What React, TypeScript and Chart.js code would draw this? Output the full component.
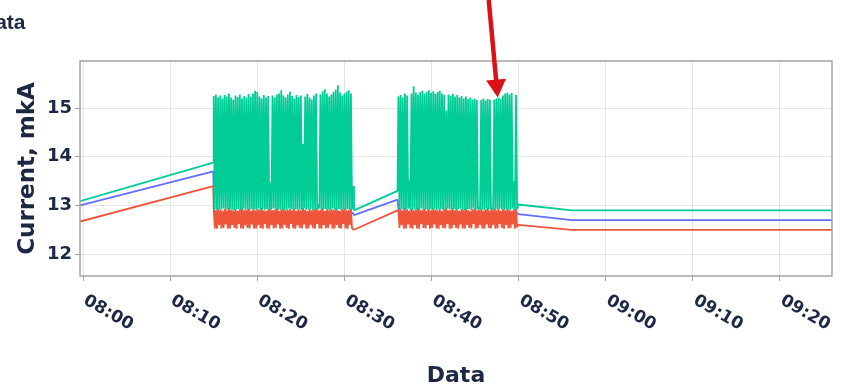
import React, { useEffect, useRef } from 'react';
import { Chart, registerables } from 'chart.js';

Chart.register(...registerables);

const NAVY = '#1d2944';
const TEAL = '#00CC96';
const RED = '#EF553B';
const PURPLE = '#636EFA';

// x values: minutes after 08:00
const xTickValues = [0, 10, 20, 30, 40, 50, 60, 70, 80];
const xTickLabels = ['08:00', '08:10', '08:20', '08:30', '08:40', '08:50', '09:00', '09:10', '09:20'];
const yTickValues = [12, 13, 14, 15];

const sampleStep = 0.125; // minutes between samples inside a burst
const burst1Start = 15.0;
const burst2Start = 36.2;

const preTimes = [-0.35, 14.95];
const tealPre = [13.09, 13.88];
const purplePre = [13.0, 13.7];
const redPre = [12.67, 13.4];

const midTimes = [31.1, 36.1];
const tealMid = [12.9, 13.3];
const purpleMid = [12.8, 13.12];
const redMid = [12.5, 12.9];

const postTimes = [49.95, 56.1, 86];
const tealPost = [13.02, 12.9, 12.9];
const purplePost = [12.82, 12.7, 12.7];
const redPost = [12.6, 12.5, 12.5];

const purpleBurst1Times = [15.05, 23.0, 30.95];
const purpleBurst1 = [12.85, 12.84, 12.85];
const purpleBurst2Times = [36.25, 43.0, 49.8];
const purpleBurst2 = [12.85, 12.84, 12.85];

const tealBurst1Highs = [
  15.25, 15.28, 15.22, 15.26, 15.2, 15.27, 15.24, 15.3, 15.22, 15.18,
  15.26, 15.23, 15.28, 15.2, 15.25, 15.22, 15.29, 15.24, 15.3, 15.36,
  15.33, 15.24, 15.2, 15.27, 15.22, 15.25, 13.47, 15.26, 15.22, 15.28,
  15.3, 15.37, 15.26, 15.22, 15.28, 15.34, 15.25, 15.2, 15.27, 15.23,
  15.26, 14.27, 15.24, 15.29, 15.22, 15.18, 15.26, 15.3, 13.02, 15.28,
  15.35, 15.39, 15.3, 15.24, 15.28, 15.33, 15.38, 15.47, 15.32, 15.26,
  15.3, 15.34, 15.37, 15.3, 13.4,
];
const tealBurst1Lows = [
  12.92, 12.9, 12.93, 12.91, 12.94, 12.9, 12.92, 12.93, 12.91, 12.9,
  12.93, 12.92, 12.9, 12.94, 12.91, 12.92, 12.9, 12.93, 12.91, 12.92,
  12.94, 12.9, 12.92, 12.91, 12.93, 12.9, 12.92, 12.94, 12.91, 12.9,
  12.92, 12.93, 12.91, 12.9, 12.94, 12.92, 12.9, 12.93, 12.91, 12.92,
  12.9, 12.94, 12.91, 12.92, 12.93, 12.9, 12.92, 12.91, 12.94, 12.9,
  12.92, 12.93, 12.91, 12.9, 12.94, 12.92, 12.9, 12.93, 12.91, 12.92,
  12.9, 12.93, 12.91, 12.92,
];
const redBurst1Highs = [
  12.92, 12.9, 12.94, 12.91, 12.89, 12.93, 12.9, 12.95, 12.91, 12.9,
  12.93, 12.89, 12.92, 12.96, 12.9, 12.91, 12.94, 12.89, 12.92, 12.9,
  12.93, 12.91, 12.95, 12.9, 12.89, 12.92, 12.94, 12.9, 12.91, 12.93,
  12.89, 12.92, 12.96, 12.9, 12.91, 12.93, 12.9, 12.94, 12.89, 12.92,
  12.9, 12.95, 12.91, 12.89, 12.93, 12.9, 12.92, 12.94, 12.9, 12.91,
  12.96, 12.89, 12.92, 12.9, 12.93, 12.91, 12.95, 12.9, 12.89, 12.92,
  12.94, 12.9, 12.91, 12.93, 12.52,
];
const redBurst1Lows = [
  12.53, 12.52, 12.6, 12.53, 12.54, 12.61, 12.52, 12.53, 12.6, 12.54,
  12.52, 12.62, 12.53, 12.52, 12.59, 12.54, 12.53, 12.61, 12.52, 12.53,
  12.6, 12.54, 12.52, 12.62, 12.53, 12.52, 12.6, 12.53, 12.54, 12.61,
  12.52, 12.53, 12.6, 12.54, 12.52, 12.62, 12.53, 12.52, 12.59, 12.54,
  12.53, 12.61, 12.52, 12.53, 12.6, 12.54, 12.52, 12.62, 12.53, 12.52,
  12.6, 12.53, 12.54, 12.61, 12.52, 12.53, 12.6, 12.54, 12.52, 12.62,
  12.53, 12.52, 12.6, 12.53,
];

const tealBurst2Highs = [
  15.24, 15.27, 15.22, 15.3, 15.26, 13.52, 15.3, 15.45, 15.32, 15.28,
  15.33, 15.36, 15.3, 15.34, 15.37, 15.31, 15.35, 15.29, 15.33, 15.36,
  15.3, 15.27, 14.95, 15.28, 15.25, 15.29, 15.24, 15.27, 15.22, 15.25,
  15.2, 15.24, 15.19, 15.22, 15.18, 15.2, 15.17, 12.95, 15.17, 15.2,
  15.16, 15.19, 15.17, 12.95, 15.18, 15.2, 15.22, 15.19, 15.26, 15.3,
  15.32, 15.28, 15.31, 13.5, 15.27,
];
const tealBurst2Lows = [
  12.91, 12.93, 12.9, 12.92, 12.94, 12.91, 12.9, 12.93, 12.92, 12.9,
  12.94, 12.91, 12.92, 12.9, 12.93, 12.91, 12.94, 12.9, 12.92, 12.93,
  12.91, 12.9, 12.94, 12.92, 12.91, 12.93, 12.9, 12.92, 12.94, 12.91,
  12.9, 12.93, 12.92, 12.91, 12.94, 12.9, 12.92, 12.93, 12.91, 12.9,
  12.94, 12.92, 12.91, 12.93, 12.9, 12.92, 12.94, 12.91, 12.9, 12.93,
  12.92, 12.91, 12.94, 12.9, 12.92,
];
const redBurst2Highs = [
  12.91, 12.93, 12.9, 12.95, 12.92, 12.89, 12.94, 12.9, 12.92, 12.96,
  12.9, 12.91, 12.94, 12.89, 12.93, 12.9, 12.95, 12.91, 12.9, 12.93,
  12.89, 12.92, 12.96, 12.9, 12.91, 12.94, 12.9, 12.92, 12.89, 12.93,
  12.91, 12.95, 12.9, 12.89, 12.92, 12.94, 12.9, 12.91, 12.93, 12.89,
  12.92, 12.96, 12.9, 12.91, 12.93, 12.9, 12.94, 12.89, 12.92, 12.9,
  12.95, 12.91, 12.89, 12.93, 12.92,
];
const redBurst2Lows = [
  12.54, 12.6, 12.52, 12.53, 12.61, 12.54, 12.52, 12.6, 12.53, 12.52,
  12.62, 12.54, 12.53, 12.6, 12.52, 12.54, 12.61, 12.53, 12.52, 12.6,
  12.54, 12.53, 12.62, 12.52, 12.53, 12.6, 12.54, 12.52, 12.61, 12.53,
  12.52, 12.6, 12.54, 12.53, 12.62, 12.52, 12.54, 12.6, 12.53, 12.52,
  12.61, 12.54, 12.53, 12.6, 12.52, 12.53, 12.62, 12.54, 12.52, 12.6,
  12.53, 12.54, 12.61, 12.52, 12.55,
];

// annotation arrow: tip in data coordinates
const arrowTip = { x: 47.6, y: 15.22 };

type Pt = { x: number; y: number };

function zip(times: number[], values: number[]): Pt[] {
  return times.map((t, i) => ({ x: t, y: values[i] }));
}

function burstPoints(start: number, highs: number[], lows: number[]): Pt[] {
  const pts: Pt[] = [];
  highs.forEach((h, k) => {
    pts.push({ x: start + 2 * k * sampleStep, y: h });
    if (k < lows.length) pts.push({ x: start + (2 * k + 1) * sampleStep, y: lows[k] });
  });
  return pts;
}

const tealData = [
  ...zip(preTimes, tealPre),
  ...burstPoints(burst1Start, tealBurst1Highs, tealBurst1Lows),
  ...zip(midTimes, tealMid),
  ...burstPoints(burst2Start, tealBurst2Highs, tealBurst2Lows),
  ...zip(postTimes, tealPost),
];
const redData = [
  ...zip(preTimes, redPre),
  ...burstPoints(burst1Start, redBurst1Highs, redBurst1Lows),
  ...zip(midTimes, redMid),
  ...burstPoints(burst2Start, redBurst2Highs, redBurst2Lows),
  ...zip(postTimes, redPost),
];
const purpleData = [
  ...zip(preTimes, purplePre),
  ...zip(purpleBurst1Times, purpleBurst1),
  ...zip(midTimes, purpleMid),
  ...zip(purpleBurst2Times, purpleBurst2),
  ...zip(postTimes, purplePost),
];

const framePlugin = {
  id: 'frameAndLabels',
  afterDraw(chart: any) {
    const { ctx, chartArea: a, scales } = chart;
    const x = scales.x;
    const y = scales.y;
    ctx.save();
    // frame
    ctx.strokeStyle = '#a3a3a3';
    ctx.lineWidth = 1.5;
    ctx.strokeRect(a.left, a.top, a.right - a.left, a.bottom - a.top);
    // rotated x tick labels
    ctx.font = 'bold 17px "DejaVu Sans"';
    ctx.fillStyle = NAVY;
    ctx.textAlign = 'left';
    ctx.textBaseline = 'top';
    xTickValues.forEach((v, i) => {
      const px = x.getPixelForValue(v);
      ctx.save();
      ctx.translate(px + 6, a.bottom + 16);
      ctx.rotate(Math.PI / 6);
      ctx.fillText(xTickLabels[i], 0, 0);
      ctx.restore();
    });
    // red arrow annotation
    const tx = x.getPixelForValue(arrowTip.x);
    const ty = y.getPixelForValue(arrowTip.y);
    const sx = tx - 9;
    const sy = 0;
    const len = Math.hypot(tx - sx, ty - sy);
    const ux = (tx - sx) / len;
    const uy = (ty - sy) / len;
    const headLen = 18;
    const headHalf = 10;
    const bx = tx - ux * headLen;
    const by = ty - uy * headLen;
    ctx.strokeStyle = '#db1119';
    ctx.fillStyle = '#db1119';
    ctx.lineWidth = 4.5;
    ctx.beginPath();
    ctx.moveTo(sx, sy);
    ctx.lineTo(bx + ux * 2, by + uy * 2);
    ctx.stroke();
    ctx.beginPath();
    ctx.moveTo(tx, ty);
    ctx.lineTo(bx - uy * headHalf, by + ux * headHalf);
    ctx.lineTo(bx + uy * headHalf, by - ux * headHalf);
    ctx.closePath();
    ctx.fill();
    ctx.restore();
  },
};

export default function App() {
  const ref = useRef<HTMLCanvasElement>(null);
  useEffect(() => {
    if (!ref.current) return;
    const chart = new Chart(ref.current, {
      type: 'line',
      data: {
        datasets: [
          { label: 'teal', data: tealData, borderColor: TEAL, backgroundColor: TEAL },
          { label: 'red', data: redData, borderColor: RED, backgroundColor: RED },
          { label: 'purple', data: purpleData, borderColor: PURPLE, backgroundColor: PURPLE },
        ],
      },
      options: {
        responsive: false,
        animation: false,
        devicePixelRatio: 1,
        layout: { padding: { top: 61, right: 11, left: 0, bottom: 0 } },
        plugins: {
          legend: { display: false },
          tooltip: { enabled: false },
          title: { display: false },
        },
        elements: {
          point: { radius: 0, hoverRadius: 0 },
          line: { tension: 0, borderWidth: 1.8, borderJoinStyle: 'bevel' },
        },
        scales: {
          x: {
            type: 'linear',
            min: -0.35,
            max: 85.97,
            afterBuildTicks: (s: any) => {
              s.ticks = xTickValues.map((v) => ({ value: v }));
            },
            afterFit: (s: any) => {
              s.height = 111;
            },
            grid: { color: '#e6e6e6', tickColor: '#a8a8a8', tickLength: 5, drawTicks: true },
            border: { display: false },
            ticks: { display: false },
            title: {
              display: true,
              text: 'Data',
              color: NAVY,
              font: { family: '"DejaVu Sans"', size: 22, weight: 'bold' },
              padding: { top: 0, bottom: -2 },
            },
          },
          y: {
            type: 'linear',
            min: 11.55,
            max: 15.97,
            afterBuildTicks: (s: any) => {
              s.ticks = yTickValues.map((v) => ({ value: v }));
            },
            afterFit: (s: any) => {
              s.width = 80;
            },
            grid: { color: '#e6e6e6', tickColor: '#a8a8a8', tickLength: 5, drawTicks: true },
            border: { display: false },
            ticks: {
              color: NAVY,
              padding: 3,
              font: { family: '"DejaVu Sans"', size: 18, weight: 'bold' },
              callback: (v: any) => String(v),
            },
            title: {
              display: true,
              text: 'Current, mkA',
              color: NAVY,
              font: { family: '"DejaVu Sans"', size: 23, weight: 'bold' },
              padding: { top: 14, bottom: 0 },
            },
          },
        },
      },
      plugins: [framePlugin],
    } as any);
    return () => chart.destroy();
  }, []);

  return (
    <div
      style={{
        position: 'absolute',
        left: 0,
        top: 0,
        width: 843,
        height: 387,
        overflow: 'hidden',
        background: '#ffffff',
      }}
    >
      <canvas ref={ref} width={843} height={387} style={{ display: 'block' }} />
      <div
        style={{
          position: 'absolute',
          left: -20,
          top: 10,
          font: 'bold 21px "Liberation Sans"',
          lineHeight: '24px',
          color: NAVY,
          whiteSpace: 'nowrap',
        }}
      >
        Data
      </div>
    </div>
  );
}
